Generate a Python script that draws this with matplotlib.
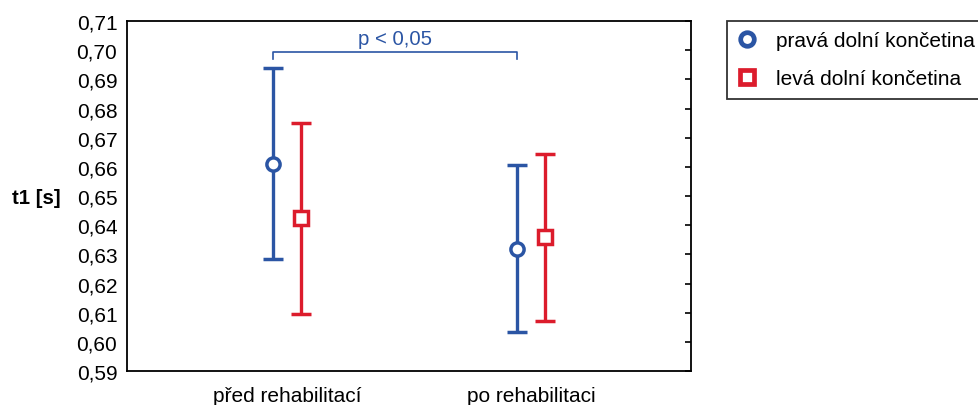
import numpy as np
import matplotlib.pyplot as plt
from matplotlib.lines import Line2D
from matplotlib.ticker import FuncFormatter

plt.rcParams['font.family'] = ['Liberation Sans', 'DejaVu Sans']

# data
categories = ["před rehabilitací", "po rehabilitaci"]
series_names = ["pravá dolní končetina", "levá dolní končetina"]
right_mean = [0.661, 0.632]
right_low = [0.6284, 0.6034]
right_high = [0.6939, 0.6606]
left_mean = [0.6425, 0.636]
left_low = [0.6095, 0.6071]
left_high = [0.675, 0.6644]
p_text = "p < 0,05"

blue = "#2b55a4"
red = "#dc1c2c"

fig = plt.figure(figsize=(9.79, 4.06), dpi=100)
ax = fig.add_axes([127 / 979, 1 - 372 / 406, 564 / 979, 350 / 406])

x = np.arange(len(categories))
off = 0.0574

def draw(xpos, mean, low, high, color, marker, ms):
    mean = np.array(mean)
    err = [mean - np.array(low), np.array(high) - mean]
    ax.errorbar(xpos, mean, yerr=err, fmt=marker, color=color, ecolor=color,
                elinewidth=2.4, capsize=7, capthick=2.4, ms=ms,
                mfc="white", mec=color, mew=2.5, zorder=3)

draw(x - off, right_mean, right_low, right_high, blue, "o", 9.5)
draw(x + off, left_mean, left_low, left_high, red, "s", 9.5)

# significance bracket
yb, yt = 0.6994, 0.6971
ax.plot([x[0] - off, x[0] - off, x[1] - off, x[1] - off], [yt, yb, yb, yt],
        color=blue, lw=1.2)
ax.text((x[0] + x[1]) / 2 - off, 0.7008, p_text, color=blue, fontsize=14.7,
        ha="center", va="bottom")

ax.set_xlim(-0.656, 1.656)
ax.set_ylim(0.59, 0.71)
ax.set_xticks(x)
ax.set_xticklabels(categories, fontsize=15)
ax.set_yticks(np.arange(0.59, 0.7101, 0.01))
ax.yaxis.set_major_formatter(FuncFormatter(lambda v, p: f"{v:.2f}".replace(".", ",")))
ax.tick_params(axis="y", left=False, right=True, direction="in", length=4,
               width=1.2, labelsize=15, pad=7)
ax.tick_params(axis="x", bottom=False, pad=7)
for s in ax.spines.values():
    s.set_linewidth(1.3)

ax.set_ylabel("t1 [s]", rotation=0, fontsize=14.7, fontweight="bold",
              ha="center", va="center")
ax.yaxis.set_label_coords(-0.161, 0.497)

handles = [
    Line2D([], [], ls="none", marker="o", ms=9.8, mfc="white", mec=blue, mew=3.4),
    Line2D([], [], ls="none", marker="s", ms=9.8, mfc="white", mec=red, mew=3.4),
]
leg = fig.legend(handles, series_names, loc="upper left",
                 bbox_to_anchor=(727 / 979, 1 - 22 / 406), fontsize=15,
                 frameon=True, fancybox=False, edgecolor="black",
                 handletextpad=0.94, borderpad=0.5, labelspacing=0.9,
                 handlelength=0.92, borderaxespad=0)
leg.get_frame().set_linewidth(1.3)

fig.savefig("out.png", dpi=100)
